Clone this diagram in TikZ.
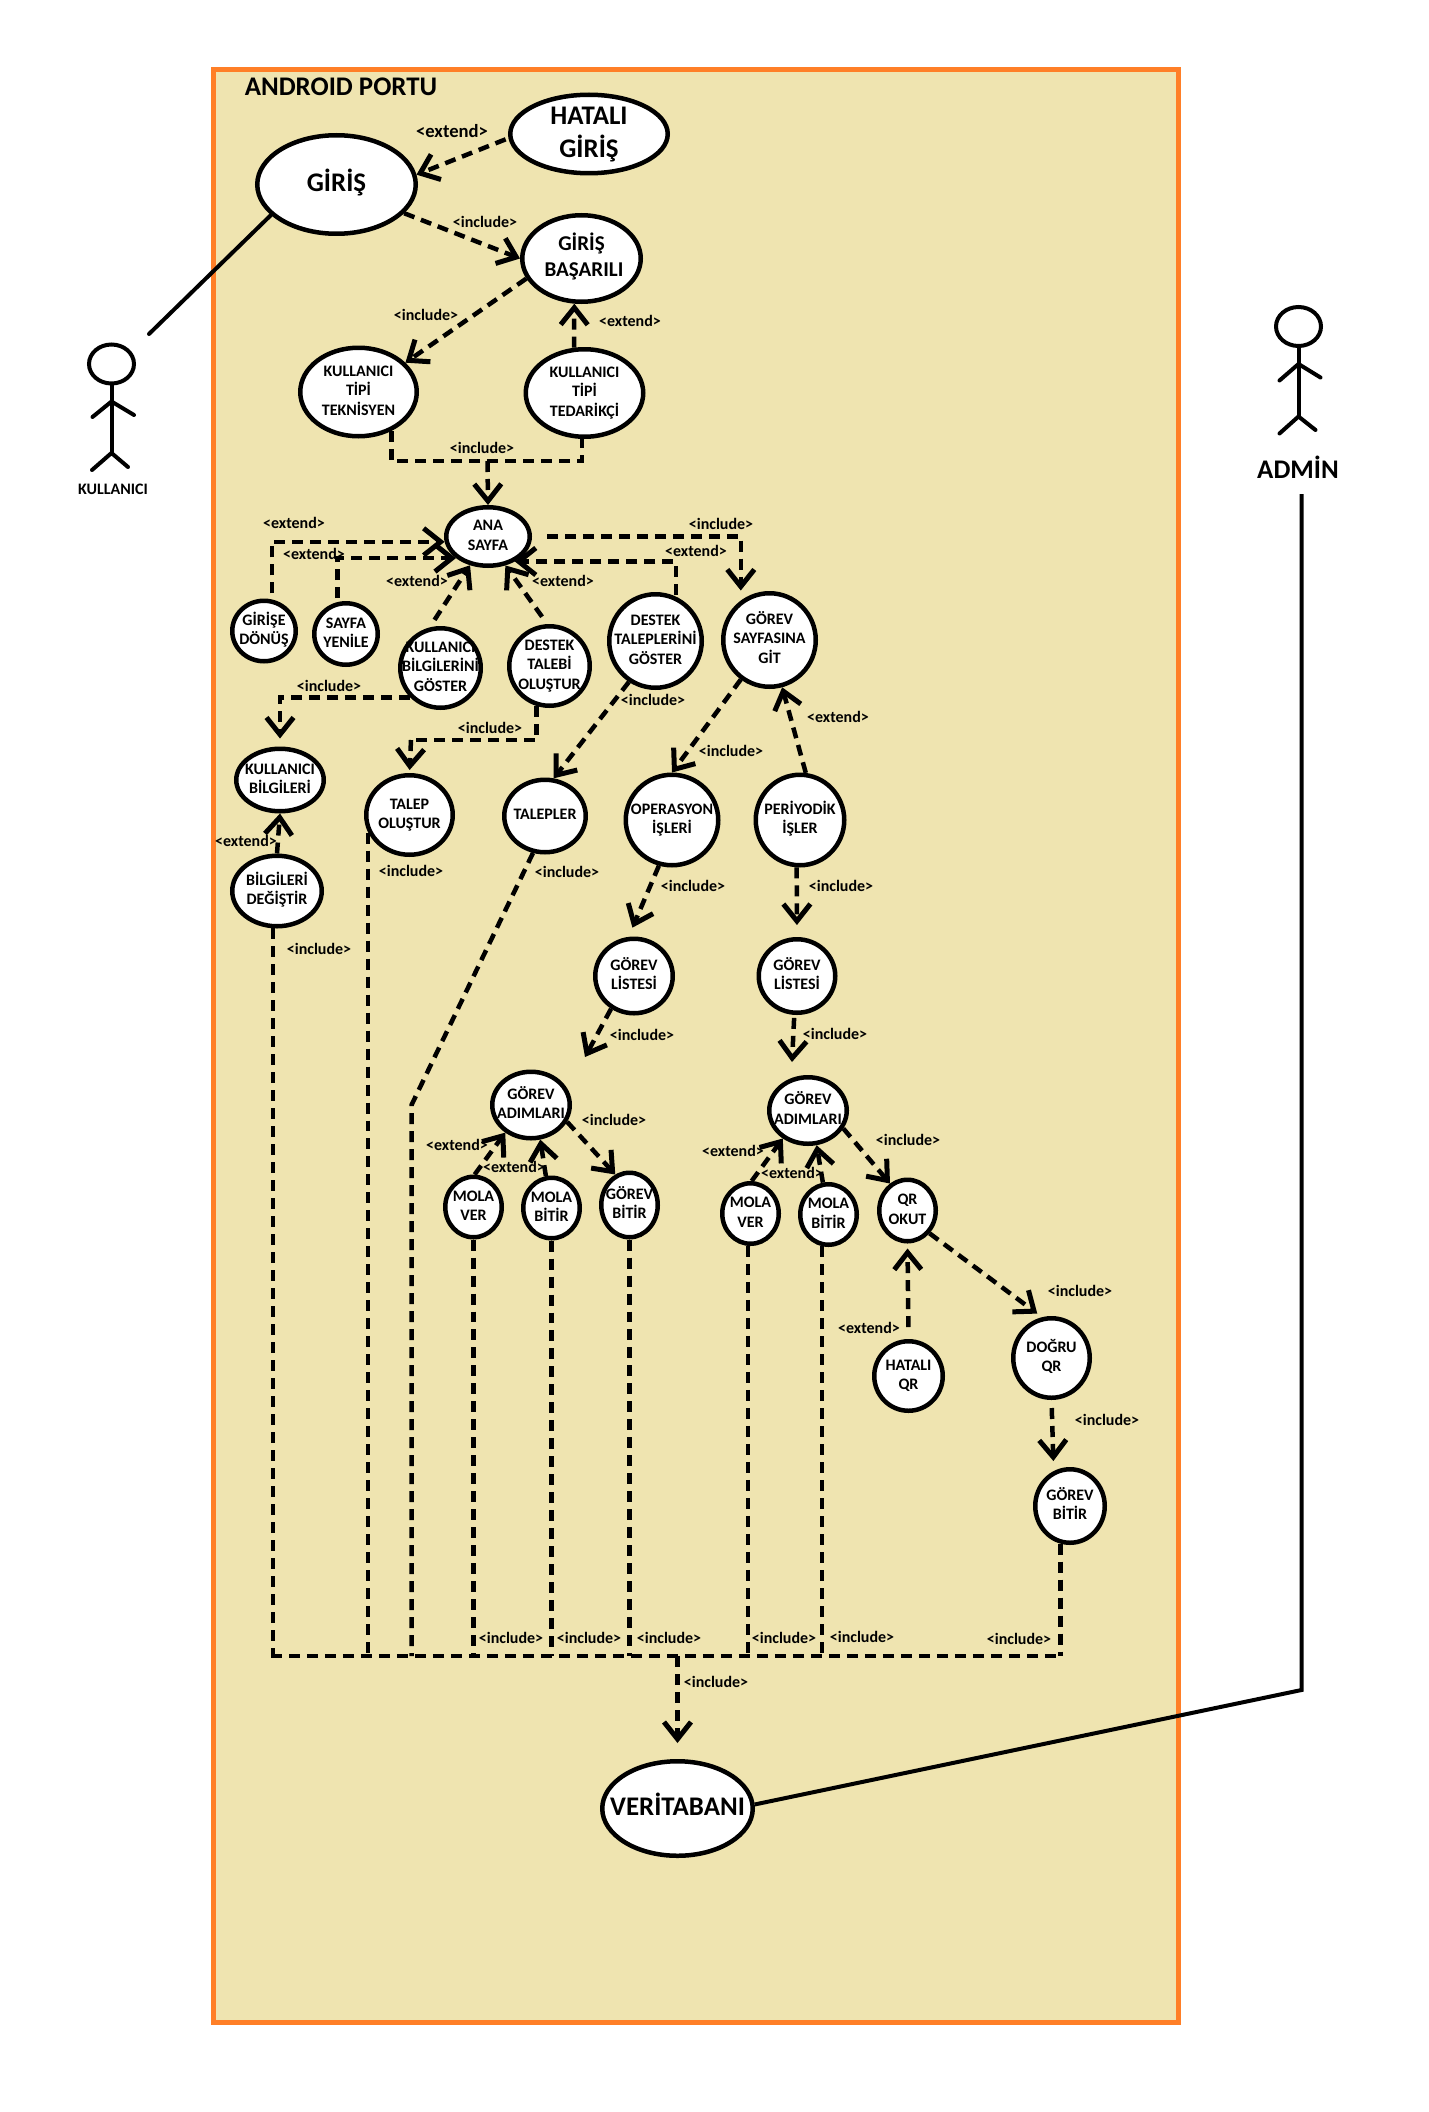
\documentclass[tikz,border=0pt]{standalone}
\usepackage{fontspec}
\setmainfont{Carlito}
\usepackage{xcolor}
\usetikzlibrary{arrows.meta,shapes}
\definecolor{portfill}{HTML}{EFE4B0}
\definecolor{portline}{HTML}{FF7F27}
\newcommand{\smalltxt}{\fontsize{9.1}{11}\selectfont\bfseries}
\newcommand{\midtxt}{\fontsize{12}{14.8}\selectfont\bfseries}
\newcommand{\bigtxt}{\fontsize{15.3}{18.6}\selectfont\bfseries}
\newcommand{\casetxt}[1]{\makebox[0pt]{\raisebox{-.5em}{\smash{\begin{tabular}[c]{@{}c@{}}#1\end{tabular}}}}}
\tikzset{
  usecase/.style={ellipse,draw=black,fill=white,line width=.09cm,inner sep=0pt},
  rel/.style={line width=.09cm,dash pattern=on .22cm off .14cm},
  relarrow/.style={rel,-{Straight Barb[length=.34cm,width=.54cm,line width=.1cm]}},
  actorline/.style={line width=.08cm,line cap=round,line join=round},
  lbl/.style={font=\smalltxt,inner sep=0pt},
}
\begin{document}
\begin{tikzpicture}[x=.02cm,y=-.02cm]
\useasboundingbox (0,0) rectangle (1428,2112);
\filldraw[fill=portfill,draw=portline,line width=.1cm] (213,70) rectangle (1178,2022);
\node[font=\bigtxt,inner sep=0pt] (port) at (341,87) {ANDROID PORTU};
\foreach \n/\x/\y/\w/\h/\t in {hatali/589/134/162/83/{HATALI\\GİRİŞ},giris/336.5/184.5/163/103/{GİRİŞ\hspace{.24cm}},vt/677.5/1808.5/155/99/{VERİTABANI}}
            \node[usecase,font=\bigtxt,minimum width=(\w-4.5)*.02cm,minimum height=(\h-4.5)*.02cm] (\n) at (\x,\y) {\casetxt{\t}};
\node[usecase,font=\midtxt,minimum width=118.5*.02cm,minimum height=86.5*.02cm] (basarili) at (581.5,258.5) {\casetxt{GİRİŞ\hspace{.2cm}\\\hspace{.1cm}BAŞARILI}};
\foreach \n/\x/\y/\w/\h/\t in {tek/358.5/392/121/93/{KULLANICI\\TİPİ\\TEKNİSYEN},
            ted/584.5/393/122/92/{KULLANICI\\TİPİ\\TEDARİKÇİ},
            ana/488/536.5/88/63/{ANA\\SAYFA},
            girise/264/631/68/65/{GİRİŞE\\DÖNÜŞ},
            syn/346/634/68/66/{SAYFA\\YENİLE},
            kbg/440.5/668/85/84/{KULLANICI\\BİLGİLERİNİ\\GÖSTER},
            dto/549.5/666/85/84/{DESTEK\\TALEBİ\\OLUŞTUR},
            dtg/655.5/641/97/98/{DESTEK\\TALEPLERİNİ\\GÖSTER},
            gorevs/769.5/640/97/98/{GÖREV\\SAYFASINA\\GİT},
            kb/280/780/92/67/{KULLANICI\\BİLGİLERİ},
            bd/277/891/94/75/{BİLGİLERİ\\DEĞİŞTİR},
            talep/409.5/815/91/84/{TALEP\\OLUŞTUR},
            tp/545/816/86/77/{TALEPLER},
            op/672/820/97/95/{OPERASYON\\İŞLERİ},
            per/800/820/93/95/{PERİYODİK\\İŞLER},
            gll/634/976/82/79/{GÖREV\\LİSTESİ},
            glr/797/976/81/78/{GÖREV\\LİSTESİ},
            gal/531/1105/82/71/{GÖREV\\ADIMLARI},
            gar/808/1110.5/82/71/{GÖREV\\ADIMLARI},
            mvl/473.5/1207/61/65/{MOLA\\VER},
            mbl/551.5/1208/61/65/{MOLA\\BİTİR},
            gbl/629.5/1205/61/69/{GÖREV\\BİTİR},
            mvr/750.5/1213.5/61/65/{MOLA\\VER},
            mbr/828.5/1214.5/61/65/{MOLA\\BİTİR},
            qr/907.5/1210.5/61/66/{QR\hspace{.24cm}\\OKUT},
            hq/908.5/1376/73/74/{HATALI\\QR},
            dq/1051.5/1358/81/84/{DOĞRU\\QR},
            gbr/1070/1506/74/78/{GÖREV\\BİTİR}}
            \node[usecase,font=\smalltxt,minimum width=(\w-4.5)*.02cm,minimum height=(\h-4.5)*.02cm] (\n) at (\x,\y) {\casetxt{\t}};
\coordinate (tekjoin) at (487.5,461);
\coordinate (talepbend) at (411,740);
\coordinate (tpbend) at (411.5,1105);
\coordinate (gllend) at (585,1057);
\coordinate (glrend) at (792,1062);
\coordinate (bus) at (0,1656);
\coordinate (busleft) at (271,1656);
\coordinate (busmid) at (677.5,1656);
\coordinate (busright) at (1061,1656);
\draw[relarrow,shorten <=.06cm] (hatali.183) -- (giris.7);
\draw[relarrow] (giris.-23) -- (basarili.180);
\draw[relarrow] (basarili.200) -- (tek.32);
\draw[relarrow] (ted.103) -- (basarili.-99);
\draw[rel] (tek.-50) |- (tekjoin) -| (ted.-93);
\draw[relarrow] (tekjoin) -- (ana.north);
\draw[relarrow,shorten <=.3cm,shorten >=.2cm] (ana.east) -| (gorevs.126);
\draw[relarrow,shorten <=.04cm] (dtg.65) |- (ana.-43);
\draw[relarrow,shorten <=.12cm] (girise.76) |- (ana.187);
\draw[relarrow,shorten <=.08cm] (syn.105) |- (ana.214);
\draw[relarrow,shorten <=.18cm] (kbg.105) -- (ana.238);
\draw[relarrow,shorten <=.18cm] (dto.93) -- (ana.-59);
\draw[relarrow,shorten >=.16cm] (kbg.224) -| (kb.north);
\draw[relarrow] (bd.north) -- (kb.south);
\draw[rel] (dto.-108) |- (talepbend);
\draw[relarrow,shorten >=.06cm] (talepbend) -- (talep.north);
\draw[relarrow] (dtg.237) -- (tp.77);
\draw[relarrow] (gorevs.234) -- (op.north);
\draw[relarrow] (per.83) -- (gorevs.-75);
\draw[relarrow,shorten >=.2cm] (op.254) -- (gll.98);
\draw[relarrow,shorten >=.24cm] (per.-94) -- (glr.north);
\draw[relarrow] (gll.235) -- (gllend);
\draw[relarrow,shorten <=.06cm] (glr.-94) -- (glrend);
\draw[relarrow] (mvl.88) -- (gal.227);
\draw[relarrow] (mbl.100) -- (gal.-75);
\draw[relarrow] (gal.-25) -- (gbl.115);
\draw[relarrow] (mvr.88) -- (gar.228);
\draw[relarrow] (mbr.100) -- (gar.-76);
\draw[relarrow] (gar.-27) -- (qr.123);
\draw[relarrow,shorten >=.12cm] (qr.-46) -- (dq.103);
\draw[relarrow,shorten <=.24cm,shorten >=.1cm] (hq.north) -- (qr.south);
\draw[relarrow,shorten <=.16cm,shorten >=.2cm] (dq.south) -- (gbr.115);
\foreach \n in {bd.-96,talep.203,mvl.south,mbl.south,gbl.south,mvr.-94,mbr.-102,gbr.-104}
            \draw[rel] (\n) -- (\n |- bus);
\draw[rel] (tp.252) -- (tpbend) -- (tpbend |- bus);
\draw[rel] (busleft) -- (busright);
\draw[relarrow,shorten >=.32cm] (busmid) -- (vt.north);
\foreach \x/\y [count=\i] in {485/222,426/315,482/448,329/686,490/728,653/700,721/524,411/871,567/872,319/949,731/751,693/886,841/886,642/1035,835/1034,614/1120,908/1140,1080/1291,1107/1420,511/1638,589/1638,669/1638,784/1638,862/1637,1019/1639,716/1682}
            \node[lbl] (inc\i) at (\x,\y) {<include>};
\foreach \x/\y [count=\i] in {630/321,294/523,314/554,417/581,563/581,696/551,246/841,838/717,457/1145,514/1167,733/1151,792/1173,869/1328}
            \node[lbl] (ext\i) at (\x,\y) {<extend>};
\node[font=\fontsize{10.6}{12}\selectfont\bfseries,inner sep=0pt] (exttop) at (452,131) {<extend>};
% actors
\node[ellipse,draw,line width=.08cm,inner sep=0pt,minimum width=.9cm,minimum height=.78cm] (headl) at (111.5,364) {};
\node[ellipse,draw,line width=.08cm,inner sep=0pt,minimum width=.9cm,minimum height=.78cm] (headr) at (1298.5,326.5) {};
\coordinate (hipl) at (111.5,453);
\coordinate (hipr) at (1298.5,416.5);
\coordinate (linkl) at (149,334);
\coordinate (linkr) at (1301.5,1690);
\coordinate (admintop) at (1301.5,494);
\draw[actorline] (headl.south) -- (hipl);
\draw[actorline] (92.5,417) -- (111.5,401.5) -- (134,415);
\draw[actorline] (92,470) -- (hipl) -- (128,467);
\draw[actorline] (headr.south) -- (hipr);
\draw[actorline] (1279.5,380.5) -- (1298.5,364) -- (1320.5,377.5);
\draw[actorline] (1279.5,433.5) -- (hipr) -- (1315.5,430);
\node[font=\smalltxt,inner sep=0pt] (kullanici) at (113,489) {KULLANICI};
\node[font=\bigtxt,inner sep=0pt] (admin) at (1298,467) {ADMİN};
\draw[actorline] (giris.205) -- (linkl);
\draw[actorline,line cap=butt,line join=miter] (vt.3) -- (linkr) -- (admintop);
\end{tikzpicture}
\end{document}
